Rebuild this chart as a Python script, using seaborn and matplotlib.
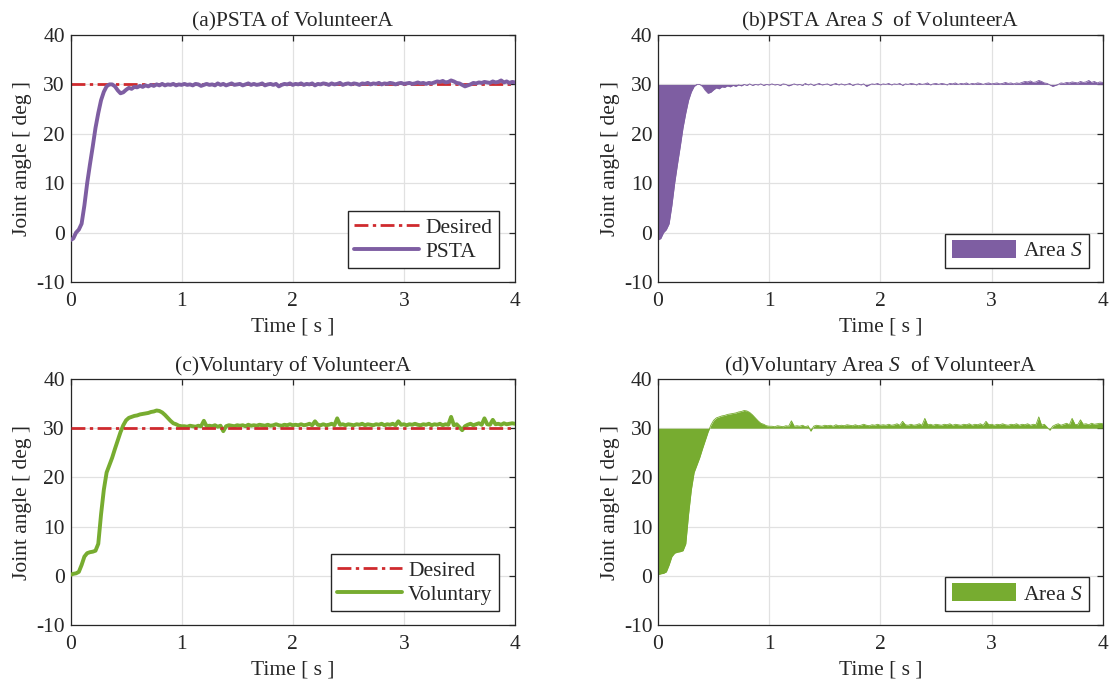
from __future__ import annotations

import matplotlib
import matplotlib.pyplot as plt
import numpy as np
import pandas as pd
import seaborn as sns


matplotlib.use("Agg")

# sampled readings of the joint angle (deg), one value every TIME_STEP seconds from 0 to 4 s
TIME_STEP = 0.025
PSTA = [
    -1.5, -1.2, 0.0, 0.6, 1.8, 5.5, 10.0, 13.8, 17.4, 21.2,
    24.2, 26.8, 28.5, 29.6, 30.0, 30.0, 29.6, 28.8, 28.2, 28.4,
    28.9, 29.3, 29.1, 29.5, 29.4, 29.7, 29.5, 29.8, 29.6, 29.9,
    29.7, 30.0, 29.8, 30.1, 29.8, 30.0, 29.9, 30.1, 29.8, 30.0,
    29.9,
    30.1, 29.9, 30.0, 29.8, 30.1, 30.0, 29.7, 29.9, 30.1, 29.9,
    30.0, 29.8, 30.2, 29.9, 30.1, 29.8, 30.0, 30.2, 29.9, 30.0,
    30.1, 29.8, 30.0, 30.2, 29.9, 30.1, 29.9, 30.0, 30.2, 29.8,
    30.0, 30.1, 29.9, 30.1, 29.6, 29.9, 30.1, 30.0, 30.2, 29.9,
    30.1, 30.0, 30.2, 29.9, 30.1, 30.0, 30.2, 29.8, 30.1, 30.0,
    30.2, 30.1, 29.9, 30.2, 30.0, 30.1, 30.3, 29.9, 30.1, 30.2,
    30.0, 30.2, 30.1, 29.9, 30.2, 30.1, 30.3, 30.0, 30.2, 30.1,
    30.3, 30.0, 30.2, 30.1, 30.3, 30.2, 30.0, 30.2, 30.3, 30.1,
    30.2, 30.3, 30.1, 30.2, 30.4, 30.2, 30.3, 30.1, 30.3, 30.2,
    30.4, 30.6, 30.5, 30.7, 30.4, 30.5, 30.8, 30.6, 30.3, 30.2,
    29.9, 29.6, 29.8, 30.0, 30.3, 30.2, 30.4, 30.3, 30.5, 30.4,
    30.3, 30.6, 30.4, 30.5, 30.8, 30.4, 30.6, 30.3, 30.5, 30.4,
]
VOLUNTARY = [
    0.2, 0.4, 0.5, 0.8, 2.2, 3.9, 4.6, 4.8, 4.9, 5.1,
    6.5, 12.5, 17.5, 21.0, 22.5, 24.0, 25.8, 27.5, 29.2, 30.6,
    31.6, 32.1, 32.3, 32.5, 32.6, 32.8, 32.9, 33.0, 33.1, 33.3,
    33.4, 33.6, 33.5, 33.2, 32.7, 32.1, 31.5, 31.0, 30.8, 30.5,
    30.4,
    30.4, 30.3, 30.5, 30.4, 30.3, 30.5, 30.4, 31.5, 30.4, 30.5,
    30.4, 30.6, 30.3, 30.5, 29.4, 30.4, 30.6, 30.5, 30.4, 30.6,
    30.5, 30.6, 30.4, 30.7, 30.5, 30.6, 30.5, 30.7, 30.6, 30.5,
    30.7, 30.5, 30.6, 30.8, 30.6, 30.5, 30.7, 30.6, 30.8, 30.6,
    30.7, 30.6, 30.8, 30.6, 30.7, 30.9, 30.6, 31.4, 30.7, 30.6,
    30.8, 30.6, 30.7, 30.9, 30.6, 32.0, 30.7, 30.8, 30.6, 30.8,
    30.7, 30.6, 30.8, 30.7, 30.9, 30.6, 30.8, 30.7, 30.6, 30.8,
    30.7, 30.9, 30.6, 30.8, 30.7, 30.9, 30.6, 31.4, 30.7, 30.8,
    30.6, 30.8, 30.7, 30.9, 30.7, 30.6, 30.8, 30.7, 30.9, 30.6,
    30.8, 30.7, 30.9, 30.6, 30.8, 30.7, 32.3, 30.6, 30.8, 30.2,
    29.6, 30.4, 30.7, 30.9, 30.6, 30.8, 31.0, 30.7, 32.0, 30.8,
    30.7, 31.7, 30.8, 30.9, 30.7, 31.0, 30.8, 30.9, 31.0, 30.9,
]
DESIRED = 30.0

X_TICKS = [0, 1, 2, 3, 4]
Y_TICKS = [-10, 0, 10, 20, 30, 40]
TITLES = [
    "(a)PSTA of VolunteerA",
    "(b)PSTA Area $S$  of VolunteerA",
    "(c)Voluntary of VolunteerA",
    "(d)Voluntary Area $S$  of VolunteerA",
]

PURPLE = "#7E5EA2"
GREEN = "#77AC30"
RED = "#CF2A2E"
INK = "#262626"
FS = 15.5

W, H = 1116, 684
# axes boxes in pixels: left, top, right, bottom
BOXES = [
    (70.5, 35, 515, 282),
    (658, 35, 1102.7, 282),
    (70.5, 379, 515, 625),
    (658, 379, 1102.7, 625),
]


def make_axes(fig: plt.Figure, box: tuple) -> plt.Axes:
    l, t, r, b = box
    return fig.add_axes([l / W, 1 - b / H, (r - l) / W, (b - t) / H])


def style_axes(ax: plt.Axes, title: str) -> None:
    ax.set_xlim(0, 4)
    ax.set_ylim(-10, 40)
    ax.set_xticks(X_TICKS)
    ax.set_yticks(Y_TICKS)
    ax.set_facecolor("white")
    ax.grid(True, color="#E1E1E1", linewidth=0.9)
    ax.set_axisbelow(True)
    for sp in ax.spines.values():
        sp.set_visible(True)
        sp.set_color(INK)
        sp.set_linewidth(0.9)
    ax.tick_params(axis="both", direction="in", length=4, width=0.9, colors=INK,
                   labelcolor=INK, labelsize=FS, top=True, right=True)
    ax.tick_params(axis="x", pad=7)
    ax.tick_params(axis="y", pad=4)
    ax.set_xlabel("Time [ s ]", fontsize=FS, color=INK, labelpad=5)
    ax.set_ylabel("Joint angle [ deg ]", fontsize=FS, color=INK, labelpad=3)
    ax.set_title(title, fontsize=FS, color=INK, pad=6)


def line_panel(ax, df, col, color, label, desired_on_top):
    sns.lineplot(data=df, x="t", y="desired", ax=ax, color=RED, linewidth=2.0,
                 linestyle=(0, (5, 1.6, 1.2, 1.6)), label="Desired",
                 zorder=4 if desired_on_top else 2)
    sns.lineplot(data=df, x="t", y=col, ax=ax, color=color, linewidth=2.8,
                 label=label, zorder=3)
    ax.legend(loc="lower right", bbox_to_anchor=(0.964, 0.055), borderaxespad=0,
              fontsize=FS, frameon=True, fancybox=False, edgecolor=INK,
              framealpha=1, handlelength=3.0, labelspacing=0.2,
              borderpad=0.3, handletextpad=0.3)


def area_panel(ax, df, col, color):
    ax.fill_between(df["t"], df[col], df["desired"], color=color, linewidth=0,
                    label="Area $S$")
    sns.lineplot(data=df, x="t", y=col, ax=ax, color=color, linewidth=0.6,
                 legend=False)
    ax.legend(loc="lower right", bbox_to_anchor=(0.969, 0.057), borderaxespad=0,
              fontsize=FS, frameon=True, fancybox=False, edgecolor=INK,
              framealpha=1, handlelength=3.0, handleheight=0.9,
              borderpad=0.3, handletextpad=0.3)


def main() -> None:
    sns.set_style("whitegrid")
    plt.rcParams["font.family"] = ["Liberation Serif", "DejaVu Serif"]
    plt.rcParams["mathtext.fontset"] = "custom"
    plt.rcParams["mathtext.rm"] = "Liberation Serif"
    plt.rcParams["mathtext.it"] = "Liberation Serif:italic"
    plt.rcParams["axes.unicode_minus"] = False

    t = np.arange(len(PSTA)) * TIME_STEP
    df = pd.DataFrame({"t": t, "psta": PSTA, "voluntary": VOLUNTARY})
    df["desired"] = DESIRED

    fig = plt.figure(figsize=(W / 100, H / 100), dpi=100)
    fig.patch.set_facecolor("white")
    axes = [make_axes(fig, b) for b in BOXES]

    line_panel(axes[0], df, "psta", PURPLE, "PSTA", desired_on_top=False)
    area_panel(axes[1], df, "psta", PURPLE)
    line_panel(axes[2], df, "voluntary", GREEN, "Voluntary", desired_on_top=True)
    area_panel(axes[3], df, "voluntary", GREEN)

    for ax, title in zip(axes, TITLES):
        style_axes(ax, title)

    fig.savefig("out.png", dpi=100, facecolor="white")
    plt.close(fig)


if __name__ == "__main__":
    main()
